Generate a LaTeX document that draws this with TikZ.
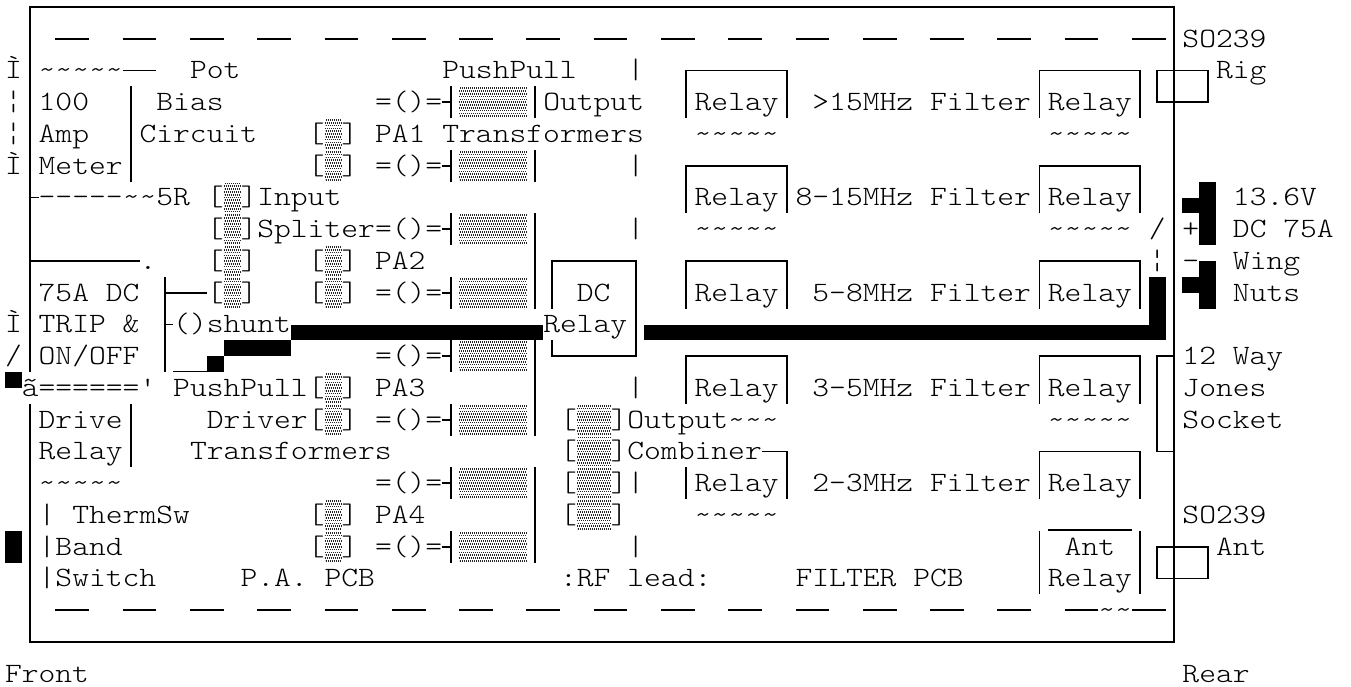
\documentclass[tikz,border=0pt]{standalone}
\usepackage{fontspec}
\newfontfamily\cour[FakeStretch=1.143,Ligatures=ResetAll]{Latin Modern Mono Light}
\usepackage{tikz}
\newcommand{\wave}{\string~\string~\string~\string~\string~}
\newcommand{\shadeblock}[3]{%
  \foreach \d [count=\n] in {-.44,-.352,-.264,-.176,-.088,0,.088,.176,.264,.352,.44}
    \draw[shd, dash phase=\n*.75pt] (#1,#3+\d) -- (#2,#3+\d);}
\tikzset{
  txt/.style={anchor=base west, inner sep=0pt, outer sep=0pt,
    font=\cour\fontsize{21pt}{21pt}\selectfont, xshift=-6.3pt, yshift=-6.2pt},
  wire/.style={line width=1.4pt, color=black},
  dashbar/.style={line width=1.5pt, color=black},
  blk/.style={fill=black, draw=none},
  shd/.style={line width=1.25pt, color=black!85, dash pattern=on .75pt off .75pt}
}
\begin{document}
\begin{tikzpicture}[x=12.615pt, y=-23.8125pt]
  \path[use as bounding box, fill=white] (-0.797,-0.2205) rectangle (79.52,21.386);
  % case
  \draw[wire] (1,11.5) -- (1,0) -- (69,0) -- (69,20) -- (1,20) -- (1,12.5);
  \foreach \k in {0,...,16} {
    \draw[dashbar] ({2.5+4*\k},1) -- ({4.5+4*\k},1);
    \draw[dashbar] ({2.5+4*\k},19) -- ({4.5+4*\k},19);
  }
  \node[txt] (gapx) at (65,19) {\string~\string~};
  % push pull stages
  \foreach \r in {3,5,7,9,11,13,15,17} {
    \node[txt] (eq\r) at (22,\r) {=()=};
    \draw[wire] (25.5,\r) -- (26,\r);
    \draw[wire] (26,\r-.5) -- (26,\r+.5);
    \shadeblock{26.5}{30.5}{\r}
  }
  \draw[wire] (31,2.5) -- (31,3.5);
  \draw[wire] (31,4.5) -- (31,5.5);
  \draw[wire] (31,6.5) -- (31,9.5);
  \draw[wire] (31,10.5) -- (31,13.5);
  \draw[wire] (31,14.5) -- (31,17.5);
  % core brackets
  \foreach \c/\r in {18/4,18/5,12/6,12/7,12/8,18/8,12/9,18/9,18/12,18/13,18/16,18/17} {
    \node[txt] (cl\c x\r) at (\c,\r) {[};
    \node[txt] (cr\c x\r) at (\c+2,\r) {]};
    \shadeblock{\c+.5}{\c+1.5}{\r}
  }
  \foreach \r in {13,14,15,16} {
    \node[txt] (ol\r) at (33,\r) {[};
    \node[txt] (or\r) at (36,\r) {]};
    \shadeblock{33.5}{35.5}{\r}
  }
  % filter relays
  \foreach \c in {40,61} {
    \foreach \r in {2,5,8,11} {
      \draw[wire] (\c,\r+1.5) -- (\c,\r) -- (\c+6,\r) -- (\c+6,\r+1.5);
      \node[txt] (rel\c x\r) at (\c+1,\r+1) {Relay};
    }
  }
  \draw[wire] (61,15.5) -- (61,14) -- (67,14) -- (67,15.5);
  \node[txt] (rel61x14) at (62,15) {Relay};
  \draw[wire] (40,14.5) -- (40,15.5);
  \node[txt] (rel40x14) at (41,15) {Relay};
  \draw[wire] (44.5,14) -- (46,14) -- (46,15.5);
  % left hand boxes
  \draw[wire] (6.5,2) -- (8.5,2);
  \draw[wire] (7,2.5) -- (7,5.5);
  \draw[wire] (7,12.5) -- (7,14.5);
  \draw[wire] (1,6) -- (1.5,6);
  \draw[wire] (1,8) -- (7.5,8);
  \draw[wire] (9,8.5) -- (9,11.5);
  \draw[wire] (9,9) -- (11.5,9);
  \draw[wire] (9,10) -- (9.5,10);
  \draw[line width=.9pt] (9.5,11.48) -- (11.5,11.48);
  % dc relay
  \draw[wire] (32,9.5) -- (32,8) -- (37,8) -- (37,11) -- (32,11) -- (32,10.5);
  % connectors on the case
  \draw[wire] (68,2) rectangle (71,3);
  \draw[wire] (68,17) rectangle (71,18);
  \draw[wire] (69,11) -- (68,11) -- (68,14) -- (69,14);
  \draw[wire] (61,16.5) -- (61,18.5);
  \draw[wire] (67,16.5) -- (67,18.5);
  \draw[line width=.9pt] (61.5,16.47) -- (66.5,16.47);
  % heavy dc wiring
  \fill[blk] (16.5,10) rectangle (31.5,10.5);
  \fill[blk] (37.5,10) rectangle (68.5,10.5);
  \fill[blk] (67.5,8.5) rectangle (68.5,10.5);
  \fill[blk] (12.5,10.5) rectangle (16.5,11);
  \fill[blk] (11.5,11) rectangle (12.5,11.5);
  \fill[blk] (-.5,11.5) rectangle (.5,12);
  \fill[blk] (-.5,16.5) rectangle (.5,17.5);
  \fill[blk] (70.5,5.5) rectangle (71.5,7.5);
  \fill[blk] (69.5,6) rectangle (70.5,6.5);
  \fill[blk] (70.5,8) rectangle (71.5,9.5);
  \fill[blk] (69.5,8.5) rectangle (70.5,9);
  % left column
  \node[txt] (ma) at (0,2) {Ì};
  \node[txt] (mb) at (0,3) {¦};
  \node[txt] (mc) at (0,4) {¦};
  \node[txt] (md) at (0,5) {Ì};
  \node[txt] (me) at (0,10) {Ì};
  \node[txt] (mf) at (0,11) {/};
  % labels
  \node[txt] (wave1) at (2,2) {\wave};
  \node[txt] (pot) at (11,2) {Pot};
  \node[txt] (pp) at (26,2) {PushPull};
  \node[txt] (hund) at (2,3) {100};
  \node[txt] (bias) at (9,3) {Bias};
  \node[txt] (outp) at (32,3) {Output};
  \node[txt] (amp) at (2,4) {Amp};
  \node[txt] (circ) at (8,4) {Circuit};
  \node[txt] (pa1) at (22,4) {PA1};
  \node[txt] (trans) at (26,4) {Transformers};
  \node[txt] (meter) at (2,5) {Meter};
  \node[txt] (dsh) at (2,6) {-----};
  \node[txt] (fiver) at (7,6) {\string~\string~5R};
  \node[txt] (inp) at (15,6) {Input};
  \node[txt] (split) at (15,7) {Spliter};
  \node[txt] (dot) at (8,8) {.};
  \node[txt] (pa2) at (22,8) {PA2};
  \node[txt] (trip) at (2,9) {75A DC};
  \node[txt] (dc) at (34,9) {DC};
  \node[txt] (tripb) at (2,10) {TRIP \&};
  \node[txt] (ohm) at (10,10) {()};
  \node[txt] (shunt) at (12,10) {shunt};
  \node[txt] (relay) at (32,10) {Relay};
  \node[txt] (onoff) at (2,11) {ON/OFF};
  \node[txt] (eqs) at (1,12) {ã======\textquotesingle};
  \node[txt] (ppb) at (10,12) {PushPull};
  \node[txt] (pa3) at (22,12) {PA3};
  \node[txt] (drive) at (2,13) {Drive};
  \node[txt] (driver) at (12,13) {Driver};
  \node[txt] (oput) at (37,13) {Output\string~\string~\string~};
  \node[txt] (drel) at (2,14) {Relay};
  \node[txt] (transb) at (11,14) {Transformers};
  \node[txt] (comb) at (37,14) {Combiner};
  \node[txt] (wave2) at (2,15) {\wave};
  \node[txt] (pipea) at (2,16) {|};
  \node[txt] (therm) at (4,16) {ThermSw};
  \node[txt] (pa4) at (22,16) {PA4};
  \node[txt] (pipeb) at (2,17) {|};
  \node[txt] (band) at (3,17) {Band};
  \node[txt] (pipec) at (2,18) {|};
  \node[txt] (sw) at (3,18) {Switch};
  \node[txt] (papcb) at (14,18) {P.A.};
  \node[txt] (pcba) at (19,18) {PCB};
  \node[txt] (rfl) at (33,18) {:RF};
  \node[txt] (lead) at (37,18) {lead:};
  \node[txt] (filt) at (47,18) {FILTER};
  \node[txt] (pcbb) at (54,18) {PCB};
  % pipes at col 37
  \foreach \r in {2,5,7,12,15,17} {
    \node[txt] (bar\r) at (37,\r) {|};
  }
  % filter bands
  \node[txt] (fa) at (48,3) {>15MHz};
  \node[txt] (fb) at (47,6) {8-15MHz};
  \node[txt] (fc) at (48,9) {5-8MHz};
  \node[txt] (fd) at (48,12) {3-5MHz};
  \node[txt] (fe) at (48,15) {2-3MHz};
  \foreach \r in {3,6,9,12,15} {
    \node[txt] (fl\r) at (55,\r) {Filter};
  }
  \node[txt] (wa) at (41,4) {\wave};
  \node[txt] (wb) at (62,4) {\wave};
  \node[txt] (wc) at (41,7) {\wave};
  \node[txt] (wd) at (62,7) {\wave};
  \node[txt] (we) at (62,13) {\wave};
  \node[txt] (wf) at (41,16) {\wave};
  \node[txt] (slash) at (68,7) {/};
  \node[txt] (bbar) at (68,8) {¦};
  \node[txt] (antx) at (63,17) {Ant};
  \node[txt] (relx) at (62,18) {Relay};
  % rear panel
  \node[txt] (soa) at (70,1) {SO239};
  \node[txt] (rig) at (72,2) {Rig};
  \node[txt] (volt) at (73,6) {13.6V};
  \node[txt] (plus) at (70,7) {+};
  \node[txt] (dcv) at (73,7) {DC 75A};
  \node[txt] (minus) at (70,8) {-};
  \node[txt] (wing) at (73,8) {Wing};
  \node[txt] (nuts) at (73,9) {Nuts};
  \node[txt] (way) at (70,11) {12 Way};
  \node[txt] (jones) at (70,12) {Jones};
  \node[txt] (sock) at (70,13) {Socket};
  \node[txt] (sob) at (70,16) {SO239};
  \node[txt] (ant) at (72,17) {Ant};
  \node[txt] (front) at (0,21) {Front};
  \node[txt] (rear) at (70,21) {Rear};
\end{tikzpicture}
\end{document}
